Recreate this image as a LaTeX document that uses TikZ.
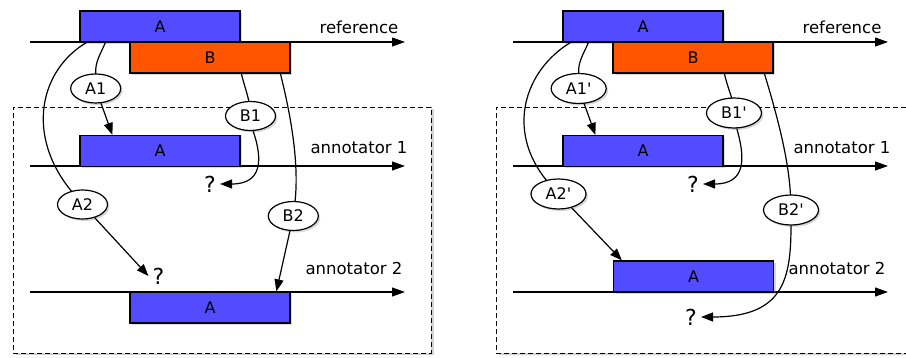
\documentclass[tikz,border=0pt]{standalone}
\usepackage{fontspec}
\setmainfont{DejaVu Sans}[Ligatures=TeXOff]
\usetikzlibrary{arrows.meta,shadows,calc,shapes.geometric}
\definecolor{barblue}{HTML}{524BFF}
\definecolor{barorange}{HTML}{FF5500}
\tikzset{
  axisline/.style={line width=1.2pt, -{Triangle[length=13pt,width=9pt]}},
  arr/.style={line width=1.2pt, -{Triangle[length=12pt,width=9pt]}},
  conn/.style={line width=1.2pt},
  softshadow/.style={drop shadow={opacity=0.3,shadow xshift=2pt,shadow yshift=-2pt}},
  bar/.style={draw, line width=1.2pt, minimum width=160pt, minimum height=31pt, inner sep=0pt, softshadow, font=\fontsize{16}{19}\selectfont},
  bluebar/.style={bar, fill=barblue},
  orangebar/.style={bar, fill=barorange},
  tag/.style={ellipse, draw, fill=white, line width=1.2pt, minimum width=50pt, minimum height=29pt, inner sep=0pt, softshadow, font=\fontsize{16}{19}\selectfont},
  tagp/.style={tag, minimum width=55pt, minimum height=30pt},
  qm/.style={font=\fontsize{22}{26}\selectfont, inner sep=4pt},
  lab/.style={font=\fontsize{16.5}{19}\selectfont, inner sep=0pt},
  frame/.style={draw, line width=0.9pt, dash pattern=on 5pt off 3pt, fill=white, minimum width=418pt, minimum height=246pt, inner sep=0pt, drop shadow={opacity=0.35,shadow xshift=2.5pt,shadow yshift=-2.5pt}},
}
\begin{document}
\begin{tikzpicture}[x=1pt,y=-1pt]
\fill[white] (0,0) rectangle (906,358);
\useasboundingbox (0,0) rectangle (906,358);

% ---------------- left panel ----------------
\node[frame] (F1) at (222,230) {};
\coordinate (r0s) at (30,42);  \coordinate (r0e) at (405,42);
\coordinate (r1s) at (30,166); \coordinate (r1e) at (405,166);
\coordinate (r2s) at (30,292); \coordinate (r2e) at (405,292);
\draw[axisline] (r0s) -- (r0e);
\draw[axisline] (r1s) -- (r1e);
\draw[axisline] (r2s) -- (r2e);
\node[lab] (refL) at (359,27) {reference};
\node[lab] (an1L) at (359,148) {annotator 1};
\node[lab] (an2L) at (354,268) {annotator 2};

\node[bluebar] (rA) at (160,26.5) {A};
\node[orangebar] (rB) at (210,57.5) {B};
\node[bluebar] (a1A) at (160,151) {A};
\node[bluebar] (a2A) at (210,307.5) {A};

\node[qm] (q1) at (210,184) {?};
\node[qm] (q2) at (158.5,276) {?};

\draw[conn] ($(rA.south west)+(26,0)$) .. controls (100,55) and (95,62) .. (95.7,74);
\draw[conn] ($(rA.south west)+(7,0)$) .. controls (40,70) and (25,135) .. (71.7,191.5);
\draw[conn] ($(rB.south west)+(112,0)$) .. controls (244,85) and (247,92) .. (249,102);
\draw[conn] ($(rB.south west)+(151,0)$) .. controls (292,120) and (299,165) .. (295,202);

\node[tag] (A1) at (95.7,88.5) {A1};
\node[tag] (B1) at (250.5,116) {B1};
\node[tag] (A2) at (82.5,204.5) {A2};
\node[tag] (B2) at (293.3,216) {B2};

\draw[arr] (A1) -- ($(a1A.north west)+(33,0)$);
\draw[arr] (A2) -- (q2.west);
\draw[arr] (B1.-80) .. controls (263,160) and (262,184) .. (q1.east);
\draw[arr] (B2) -- ($(a2A.north west)+(147,0)$);

% ---------------- right panel ----------------
\begin{scope}[xshift=483pt]
\node[frame] (F2) at (222,230) {};
\coordinate (s0s) at (30,42);  \coordinate (s0e) at (405,42);
\coordinate (s1s) at (30,166); \coordinate (s1e) at (405,166);
\coordinate (s2s) at (30,292); \coordinate (s2e) at (405,292);
\draw[axisline] (s0s) -- (s0e);
\draw[axisline] (s1s) -- (s1e);
\draw[axisline] (s2s) -- (s2e);
\node[lab] (refR) at (359,27) {reference};
\node[lab] (an1R) at (359,148) {annotator 1};
\node[lab] (an2R) at (354,268) {annotator 2};

\node[bluebar] (RrA) at (160,26.5) {A};
\node[orangebar] (RrB) at (210,57.5) {B};
\node[bluebar] (Ra1A) at (160,151) {A};
\node[bluebar] (Ra2A) at (210.5,276.5) {A};

\node[qm] (Rq1) at (210,184) {?};
\node[qm] (Rq3) at (208,317) {?};

\draw[conn] ($(RrA.south west)+(26,0)$) .. controls (100,55) and (95,62) .. (95.7,73);
\draw[conn] ($(RrA.south west)+(8,0)$) .. controls (42,70) and (22,130) .. (64,181);
\draw[conn] ($(RrB.south west)+(112,0)$) .. controls (244,85) and (247,92) .. (249,99);
\draw[conn] ($(RrB.south west)+(152,0)$) .. controls (294,115) and (306,160) .. (307.5,196);

\node[tagp] (A1p) at (95.7,88.5) {A1'};
\node[tagp] (B1p) at (251,113) {B1'};
\node[tagp] (A2p) at (75.5,194) {A2'};
\node[tagp] (B2p) at (308,210) {B2'};

\draw[arr] (A1p) -- ($(Ra1A.north west)+(33,0)$);
\draw[arr] (A2p) -- ($(Ra2A.north west)+(9,0)$);
\draw[arr] (B1p.-80) .. controls (263,160) and (262,184) .. (Rq1.east);
\draw[arr] (B2p.south) .. controls (308,280) and (300,317) .. (Rq3.east);
\end{scope}
\end{tikzpicture}
\end{document}
